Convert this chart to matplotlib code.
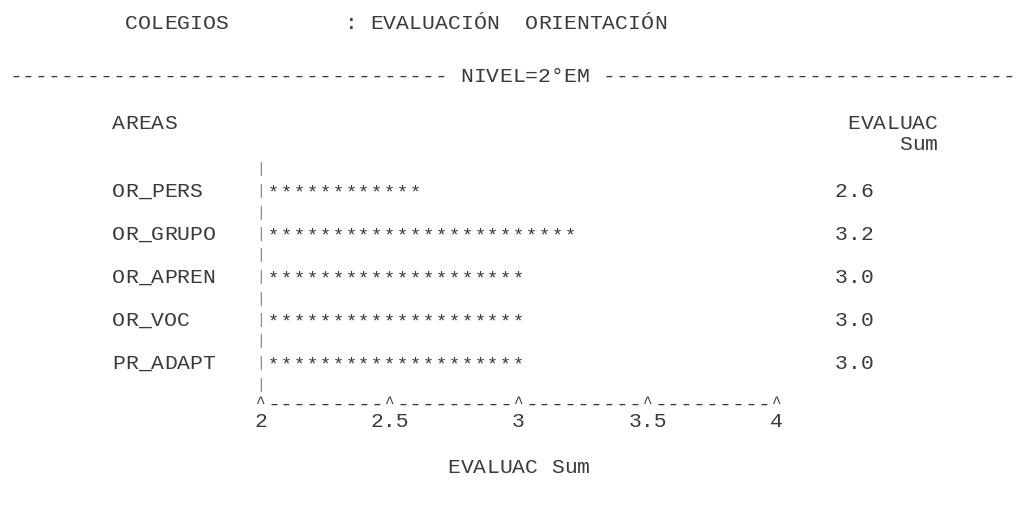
import matplotlib
matplotlib.use("Agg")
import matplotlib.pyplot as plt

# ---- data -------------------------------------------------------------
areas = ["OR_PERS", "OR_GRUPO", "OR_APREN", "OR_VOC", "PR_ADAPT"]
evaluac_sum = [2.6, 3.2, 3.0, 3.0, 3.0]
tick_values = [2, 2.5, 3, 3.5, 4]
tick_labels = ["2", "2.5", "3", "3.5", "4"]
title_left = "COLEGIOS"
title_right = ": EVALUACIÓN  ORIENTACIÓN"
by_label = "NIVEL=2°EM"
row_header = "AREAS"
value_header = ["EVALUAC", "Sum"]
axis_title = "EVALUAC Sum"

# ---- layout -----------------------------------------------------------
W, H = 1025, 515
CW = 12.9          # pixel width of one character cell
X0 = 9.0           # pixel left of column 0
AXIS_COL = 19      # column of the vertical axis
XMIN = 2.0
PER_UNIT = 20      # character cells per unit of the value axis
FS = 15.4
FONT = "Liberation Mono"
COLOR = "#3a3a3a"
PIPE = "#808080"


def col_to_val(col):
    return XMIN + (col - AXIS_COL) / PER_UNIT


def px_to_val(px):
    return col_to_val((px - X0) / CW - 0.5)


fig = plt.figure(figsize=(W / 100, H / 100), dpi=100)
ax = fig.add_axes([0, 0, 1, 1])
ax.set_xlim(px_to_val(0), px_to_val(W))
ax.set_ylim(H, 0)
ax.axis("off")


def put(col, y, s, color=COLOR, fs=FS):
    for i, ch in enumerate(s):
        if ch == " ":
            continue
        ax.text(col_to_val(col + i), y, ch, ha="center", va="baseline",
                family=FONT, fontsize=fs, color=color)


def pipe(yc):
    ax.text(col_to_val(AXIS_COL), yc, "|", ha="center", va="center",
            family=FONT, fontsize=10.5, color=PIPE)


# title
put(9, 29, title_left)
put(26, 29, title_right)

# by-group line (only the cells that fit on the page)
dash_line = "-" * 34 + " " + by_label + " " + "-" * 34
max_cols = int((W - X0) / CW - 0.9)
put(0, 82, dash_line[:max_cols + 1])

# headers
put(8, 129, row_header)
put(65, 129, value_header[0])
put(65 + len(value_header[0]) - len(value_header[1]), 150, value_header[1])

# bars
ROW0 = 197
STEP = 43
for i, (name, v) in enumerate(zip(areas, evaluac_sum)):
    y = ROW0 + STEP * i
    pipe(y - 6 - STEP / 2)
    put(8, y, name)
    pipe(y - 6)
    n = int(round((v - XMIN) * PER_UNIT))
    for k in range(1, n + 1):
        ax.text(XMIN + k / PER_UNIT, y, "*", ha="center", va="baseline",
                family=FONT, fontsize=FS - 2, color=COLOR)
    put(64, y, f"{v:.1f}")
pipe(ROW0 + STEP * (len(areas) - 0.5) - 6)

# horizontal axis
y_axis = ROW0 + STEP * len(areas) - 2
n_cells = int(round((tick_values[-1] - tick_values[0]) * PER_UNIT))
tick_cells = [int(round((t - XMIN) * PER_UNIT)) for t in tick_values]
for k in range(n_cells + 1):
    x = XMIN + k / PER_UNIT
    if k in tick_cells:
        ax.text(x, y_axis - 2, "^", ha="center", va="baseline",
                family=FONT, fontsize=FS - 4, color=COLOR)
    else:
        ax.text(x, y_axis, "-", ha="center", va="baseline",
                family=FONT, fontsize=FS, color=COLOR)

for t, lab in zip(tick_values, tick_labels):
    ax.text(t, 427, lab, ha="center", va="baseline",
            family=FONT, fontsize=FS, color=COLOR)

# axis title
put(34, 473, axis_title)

fig.savefig("out.png", dpi=100)
